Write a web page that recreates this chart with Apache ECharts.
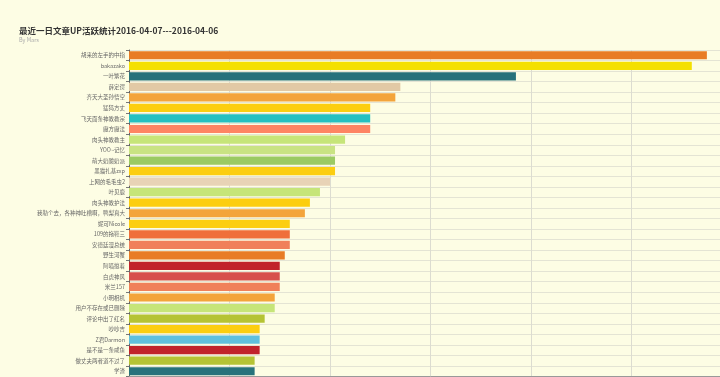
<!DOCTYPE html>
<html>
<head>
<meta charset="utf-8">
<script src="https://cdn.jsdelivr.net/npm/echarts@6/dist/echarts.min.js"></script>
<style>
html,body{margin:0;padding:0;overflow:hidden;background:#fdfde4;}
#c{width:800px;height:420px;}
</style>
</head>
<body>
<div id="c"></div>
<script>
const categories = ['胡来的左手的中指','bakazako','一叶繁花','薛定谔','齐天大圣孙悟空','猛犸方丈','飞天面条神教教宗','魔方魔法','肉头神教教主','YOO~记忆','萌大奶酸奶派','黑猫扎基zxp','上网的毛毛虫2','叶见鹿','肉头神教护法','我勒个去，各种神吐槽啊，鸭梨真大','妮可Nicole','109的拖鞋三','安德廷漫总统','野生河蟹','阿喵擅着','白虎神风','米兰157','小明相机','用户不存在或已删除','评论中出了红名','吵吵吉','Z君Darmon','是不是一条咸鱼','做丈夫两者道不过了','学渣'];
const values = [115,112,77,54,53,48,48,48,43,41,41,41,40,38,36,35,32,32,32,31,30,30,30,29,29,27,26,26,26,25,25];
const barColors = ['#e87c25','#f4e001','#27727b','#e2c9a5','#f3a43b','#fcce10','#26c0c0','#fe8463','#c6e579','#c9e383','#9bca63','#fcce10','#e8d3b6','#c6e579','#fcce10','#f3a43b','#fcce10','#ef6f3a','#f0805a','#e87c25','#c1232b','#d7504b','#f0805a','#f3a43b','#c6e579','#b5c334','#fcce10','#60c0dd','#c1232b','#b5c334','#27727b'];

const chart = echarts.init(document.getElementById('c'));
chart.setOption({
  backgroundColor: '#fdfde4',
  animation: false,
  title: {
    text: '最近一日文章UP活跃统计2016-04-07---2016-04-06',
    subtext: 'By Mars',
    left: 14, top: 22,
    itemGap: 2,
    textStyle: {fontSize: 8.5, fontWeight: 'bold', color: '#333', fontFamily: 'Noto Sans CJK SC'},
    subtextStyle: {fontSize: 5.5, color: '#aaa', fontFamily: 'Noto Sans CJK SC'}
  },
  grid: {left: 129, top: 50, width: 603, height: 326.5},
  xAxis: {
    type: 'value', min: 0, max: 120, interval: 20,
    axisLine: {show: true, lineStyle: {color: '#999'}},
    axisLabel: {fontSize: 6, color: '#555'},
    splitLine: {show: true, lineStyle: {color: '#dcdcd0', width: 1}}
  },
  yAxis: {
    type: 'category', inverse: true, data: categories,
    axisLine: {show: true, lineStyle: {color: '#666'}},
    axisTick: {show: true, length: 3, lineStyle: {color: '#777'}},
    axisLabel: {fontSize: 5.5, color: '#666', margin: 4, interval: 0, fontFamily: 'Noto Sans CJK SC'},
    splitLine: {show: true, lineStyle: {color: '#e4e4d4', width: 1}}
  },
  series: [{
    type: 'bar',
    data: values.map((v, i) => ({value: v, itemStyle: {color: barColors[i]}})),
    barCategoryGap: '22%'
  }]
});
</script>
</body>
</html>
